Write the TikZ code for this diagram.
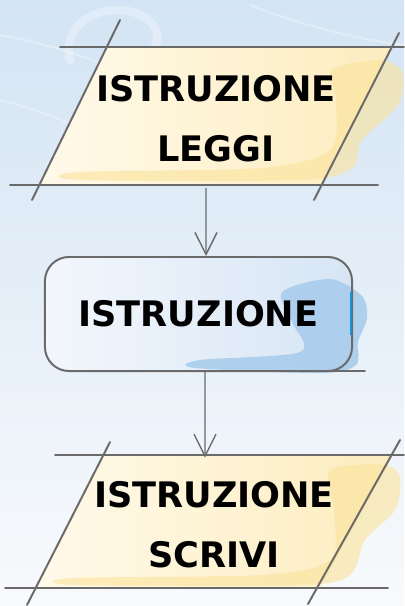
\documentclass[tikz,border=0pt]{standalone}
\usepackage{fontspec}
\setmainfont{DejaVu Sans}
\usetikzlibrary{arrows.meta,calc}
\definecolor{SkyTop}{HTML}{D3E4F4}
\definecolor{SkyMid}{HTML}{E9F1F9}
\definecolor{SkyLow}{HTML}{F8FAFC}
\definecolor{Cream}{HTML}{FFF9EA}
\definecolor{Butter}{HTML}{FCEDBE}
\definecolor{Blot}{HTML}{FBE39A}
\definecolor{Frost}{HTML}{F3F7FC}
\definecolor{Ice}{HTML}{D6E5F5}
\definecolor{Pool}{HTML}{A6CBEC}
\definecolor{Stream}{HTML}{1C8FD0}
\definecolor{Pencil}{HTML}{6A6A6A}
\tikzset{io/.style={inner sep=0pt,minimum width=7cm,minimum height=3.45cm,align=center,font=\fontsize{25}{42.7}\selectfont\bfseries,text=black},proc/.style={rectangle,draw=Pencil,line width=1.4pt,rounded corners=0.6cm,minimum width=7.675cm,minimum height=2.85cm,inner sep=0pt,font=\fontsize{25}{30}\selectfont\bfseries,text=black},edge/.style={draw=Pencil,line width=1.4pt,line cap=round},flow/.style={draw=Pencil,line width=1pt,-{Straight Barb[length=5.5mm,width=5.5mm]}},swirl/.style={draw=white,opacity=0.3,line cap=round}}

\begin{document}
\begin{tikzpicture}[x=0.025cm,y=-0.025cm]
\useasboundingbox (0,0) rectangle (404,606);
\shade[top color=SkyTop,middle color=SkyMid,bottom color=SkyLow] (0,0) rectangle (404,606);
% faint swirls in the background
\draw[swirl,line width=6pt] (70,60) .. controls (60,20) and (110,0) .. (140,15) .. controls (170,30) and (160,60) .. (120,62);
\draw[swirl,line width=1.5pt] (0,35) .. controls (60,45) and (140,75) .. (200,105);
\draw[swirl,line width=1.5pt] (0,100) .. controls (40,110) and (80,125) .. (120,150);
\draw[swirl,line width=1.5pt] (250,5) .. controls (300,25) and (360,40) .. (404,45);
% leggi
\shade[left color=Cream,right color=Butter] (107,47) -- (392,47) -- (322,185) -- (40,185) -- cycle;
\fill[Blot,opacity=0.6] plot[smooth cycle] coordinates {(332,70) (380,60) (402,72) (398,105) (362,140) (352,168) (300,180) (80,180) (78,172) (260,168) (330,150) (336,100)};
\draw[edge] (60,47) -- (404,47);
\draw[edge] (10,185) -- (378,185);
\draw[edge] (120,20) -- (32,200);
\draw[edge] (399,33) -- (314,200);
\node[io] (leggi) at (216,118.5) {ISTRUZIONE\\LEGGI};
% istruzione
\shade[left color=Frost,right color=Ice,rounded corners=0.6cm] (45,257) rectangle (352,371);
\fill[Pool,opacity=0.85] plot[smooth cycle] coordinates {(282,292) (330,279) (362,296) (367,318) (358,342) (356,365) (322,373) (195,368) (200,360) (300,352) (292,322)};
\node[proc] (istruzione) at (198.5,314) {ISTRUZIONE};
\draw[Stream,line width=1.4pt] (351,292) -- (351,335);
\draw[edge] (330,371) -- (365,371);
% scrivi
\shade[left color=Cream,right color=Butter] (103,455) -- (393,455) -- (320,588) -- (37,588) -- cycle;
\fill[Blot,opacity=0.6] plot[smooth cycle] coordinates {(330,470) (385,465) (400,478) (395,510) (365,540) (350,575) (300,585) (75,585) (72,578) (260,575) (330,560) (334,510)};
\draw[edge] (55,455) -- (404,455);
\draw[edge] (5,588) -- (388,588);
\draw[edge] (110,442) -- (27,605);
\draw[edge] (400,440) -- (308,604);
\node[io,minimum height=3.325cm] (scrivi) at (214,524.5) {ISTRUZIONE\\SCRIVI};
\draw[flow] ([xshift=-0.25cm]leggi.south) -- ([xshift=0.1875cm]istruzione.north);
\draw[flow] ([xshift=0.1625cm]istruzione.south) -- ([xshift=-0.225cm]scrivi.north);
\end{tikzpicture}
\end{document}
